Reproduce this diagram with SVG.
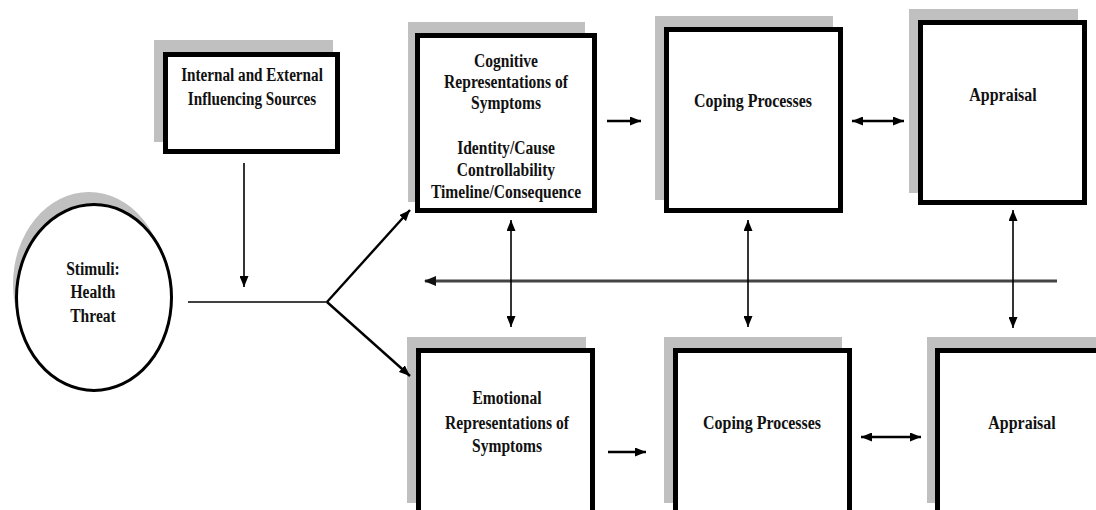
<svg xmlns="http://www.w3.org/2000/svg" width="1096" height="510" viewBox="0 0 1096 510">
<style>
.sh{fill:#c0c0c0;stroke:none}
.bx{fill:#fff;stroke:#000;stroke-width:5}
.t{font-family:"Liberation Serif","Times New Roman",serif;font-weight:bold;font-size:19px;text-anchor:middle;fill:#111}
.c{fill:none;stroke:#000;stroke-width:1.6}
.c2{fill:none;stroke:#000;stroke-width:2.4}
.lg{fill:none;stroke:#444;stroke-width:3.2}
</style>
<defs>
<marker id="ah" markerUnits="userSpaceOnUse" markerWidth="11" markerHeight="9" refX="11" refY="4.5" orient="auto-start-reverse">
<path d="M0,0 L11,4.5 L0,9 z" fill="#000"/>
</marker>
<marker id="ahg" markerUnits="userSpaceOnUse" markerWidth="12" markerHeight="10" refX="11" refY="5" orient="auto">
<path d="M0,0 L12,5 L0,10 z" fill="#111"/>
</marker>
</defs>
<rect width="1096" height="510" fill="#fff"/>

<g id="stimuli">
<ellipse class="sh" cx="89" cy="284" rx="76" ry="92"/>
<ellipse cx="94" cy="297.5" rx="77.5" ry="93" fill="#fff" stroke="#000" stroke-width="3"/>
<text class="t" transform="translate(93,275) scale(0.82,1)">Stimuli:</text>
<text class="t" transform="translate(93,298) scale(0.82,1)">Health</text>
<text class="t" transform="translate(93,322) scale(0.82,1)">Threat</text>
</g>

<g id="influencing">
<rect class="sh" x="154" y="40" width="179" height="102"/>
<rect class="bx" x="165.5" y="54.5" width="172" height="97"/>
<text class="t" transform="translate(252,81) scale(0.8,1)">Internal and External</text>
<text class="t" transform="translate(252,105) scale(0.8,1)">Influencing Sources</text>
</g>

<g id="cognitive">
<rect class="sh" x="408" y="22" width="177" height="180"/>
<rect class="bx" x="417.5" y="35.5" width="177" height="175"/>
<text class="t" transform="translate(506,67) scale(0.82,1)">Cognitive</text>
<text class="t" transform="translate(506,88) scale(0.82,1)">Representations of</text>
<text class="t" transform="translate(506,109) scale(0.82,1)">Symptoms</text>
<text class="t" transform="translate(506,154) scale(0.82,1)">Identity/Cause</text>
<text class="t" transform="translate(506,176) scale(0.82,1)">Controllability</text>
<text class="t" transform="translate(506,198) scale(0.82,1)">Timeline/Consequence</text>
</g>

<g id="coping-top">
<rect class="sh" x="655" y="16" width="178" height="184"/>
<rect class="bx" x="666.5" y="29.5" width="174" height="181"/>
<text class="t" transform="translate(753,107) scale(0.84,1)">Coping Processes</text>
</g>

<g id="appraisal-top">
<rect class="sh" x="909" y="9" width="169" height="184"/>
<rect class="bx" x="920.5" y="22.5" width="164" height="180"/>
<text class="t" transform="translate(1003,101) scale(0.84,1)">Appraisal</text>
</g>

<g id="emotional">
<rect class="sh" x="407" y="337" width="179" height="166"/>
<rect class="bx" x="418.5" y="350.5" width="174" height="200"/>
<text class="t" transform="translate(507,404) scale(0.82,1)">Emotional</text>
<text class="t" transform="translate(507,429) scale(0.82,1)">Representations of</text>
<text class="t" transform="translate(507,452) scale(0.82,1)">Symptoms</text>
</g>

<g id="coping-bottom">
<rect class="sh" x="664" y="337" width="178" height="166"/>
<rect class="bx" x="675.5" y="350.5" width="174" height="200"/>
<text class="t" transform="translate(762,429) scale(0.84,1)">Coping Processes</text>
</g>

<g id="appraisal-bottom">
<rect class="sh" x="927" y="337" width="178" height="166"/>
<rect class="bx" x="937.5" y="350.5" width="174" height="200"/>
<text class="t" transform="translate(1022,429) scale(0.84,1)">Appraisal</text>
</g>

<g id="connectors">
<line class="c" x1="188" y1="302" x2="327" y2="302"/>
<line class="c" x1="244" y1="163" x2="244" y2="287" marker-end="url(#ah)"/>
<line class="c2" x1="327" y1="302" x2="410" y2="210" marker-end="url(#ah)"/>
<line class="c2" x1="327" y1="302" x2="410" y2="376" marker-end="url(#ah)"/>
<line class="c2" x1="607" y1="121" x2="641" y2="121" marker-end="url(#ah)"/>
<line class="c2" x1="852" y1="121" x2="904" y2="121" marker-start="url(#ah)" marker-end="url(#ah)"/>
<line class="c2" x1="608" y1="452" x2="646" y2="452" marker-end="url(#ah)"/>
<line class="c2" x1="861" y1="437" x2="921" y2="437" marker-start="url(#ah)" marker-end="url(#ah)"/>
<line class="lg" x1="1057" y1="281" x2="425" y2="281" marker-end="url(#ahg)"/>
<line class="c" x1="511" y1="220" x2="511" y2="327" marker-start="url(#ah)" marker-end="url(#ah)"/>
<line class="c" x1="748" y1="220" x2="748" y2="327" marker-start="url(#ah)" marker-end="url(#ah)"/>
<line class="c" x1="1013" y1="210" x2="1013" y2="328" marker-start="url(#ah)" marker-end="url(#ah)"/>
</g>
</svg>
